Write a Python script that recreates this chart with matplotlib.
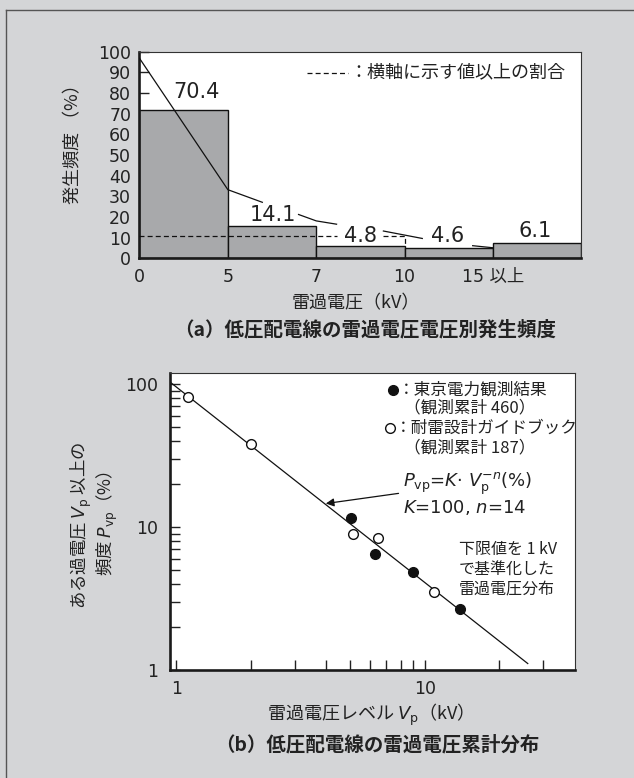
import matplotlib
matplotlib.use('Agg')
import matplotlib.pyplot as plt
import numpy as np
from matplotlib.lines import Line2D
from matplotlib.ticker import FixedLocator, NullFormatter

plt.rcParams['font.family'] = ['DejaVu Sans', 'Noto Sans CJK JP']
JP = ['Noto Sans CJK JP', 'DejaVu Sans']

BG = '#d4d5d7'
TXT = '#222222'
BAR = '#a8a9ab'

# (a) 雷過電圧の電圧別発生頻度
bin_labels = ['0', '5', '7', '10', '15 以上']
bar_heights = [72.0, 15.7, 5.9, 5.1, 7.2]
value_labels = ['70.4', '14.1', '4.8', '4.6', '6.1']
label_x = [0.64, 1.51, 2.50, 3.49, 4.48]
label_y = [80.5, 20.9, 10.9, 10.9, 13.2]
# 実線 (ラベルの所で途切れる)
curve_x = [0.0, 1.0, 1.39, np.nan, 1.80, 2.0, 2.23, np.nan, 2.76, 3.20, np.nan, 3.77, 4.0]
curve_y = [96.8, 33.2, 27.1, np.nan, 21.2, 18.1, 16.5, np.nan, 13.2, 9.6, np.nan, 6.1, 5.1]
# 破線
dash_x = [0.0, 2.23, np.nan, 2.76, 3.0, 3.0]
dash_y = [10.9, 10.9, np.nan, 10.9, 10.9, 5.9]

# (b) 累計分布
tepco_v = [5.06, 6.34, 8.95, 13.9]
tepco_p = [11.5, 6.44, 4.82, 2.66]
guide_v = [1.12, 2.0, 5.14, 6.46, 10.9]
guide_p = [81.5, 38.0, 8.93, 8.38, 3.53]
fit_v = [0.94, 26.0]
fit_p = [104.0, 1.11]

fig = plt.figure(figsize=(6.34, 7.78), dpi=100, facecolor=BG)

# 枠線 (上と左だけ見えている)
fig.add_artist(Line2D([6/634, 1], [1 - 10/778, 1 - 10/778], transform=fig.transFigure, color='#555555', lw=1.0))
fig.add_artist(Line2D([6/634, 6/634], [0, 1 - 10/778], transform=fig.transFigure, color='#555555', lw=1.0))


def style_spines(ax):
    for s in ['left', 'bottom']:
        ax.spines[s].set_linewidth(1.9)
        ax.spines[s].set_color('#1a1a1a')
    for s in ['top', 'right']:
        ax.spines[s].set_linewidth(0.8)
        ax.spines[s].set_color('#333333')


# ---- (a) ----
ax1 = fig.add_axes([0.220, 0.668, 0.697, 0.2656])
idx = np.arange(len(bar_heights))
ax1.bar(idx, bar_heights, width=1, align='edge', color=BAR, edgecolor='#111111', linewidth=1.0, zorder=2)
ax1.plot(curve_x, curve_y, color='#111111', lw=0.9, zorder=3)
ax1.plot(dash_x, dash_y, color='#111111', lw=0.9, ls=(0, (4, 2.5)), zorder=3)
for x, y, t in zip(label_x, label_y, value_labels):
    ax1.text(x, y, t, ha='center', va='center', fontsize=15, color=TXT, zorder=4)

ax1.set_xlim(0, len(bar_heights))
ax1.set_ylim(0, 100)
ax1.set_yticks(np.arange(0, 101, 10))
ax1.set_xticks(idx)
ax1.set_xticklabels(bin_labels)
ax1.tick_params(axis='y', direction='in', length=7, width=1.0, pad=6, labelsize=12.5, colors=TXT)
ax1.tick_params(axis='x', length=0, pad=7, labelsize=12.5, colors=TXT)
style_spines(ax1)

ax1.plot([0.379, 0.471], [0.898, 0.898], transform=ax1.transAxes, color='#111111', lw=0.9, ls=(0, (4, 2.5)))
ax1.text(0.476, 0.898, '：横軸に示す値以上の割合', transform=ax1.transAxes, ha='left', va='center',
         fontsize=13, color=TXT, family=JP)

fig.text(72.8/634, 1 - 140/778, '発生頻度 （%）', rotation=90, ha='center', va='center', fontsize=13, color=TXT, family=JP)
fig.text(356/634, 1 - 303/778, '雷過電圧（kV）', ha='center', va='center', fontsize=13, color=TXT, family=JP)
fig.text(365/634, 1 - 330/778, '（a）低圧配電線の雷過電圧電圧別発生頻度', ha='center', va='center', fontsize=14,
         color=TXT, family=JP, weight='bold')

# ---- (b) ----
ax2 = fig.add_axes([0.2674, 0.1388, 0.6396, 0.3814])
ax2.set_xscale('log')
ax2.set_yscale('log')
ax2.plot(fit_v, fit_p, color='#111111', lw=0.9, zorder=2)
ax2.plot(guide_v, guide_p, 'o', ms=7, mfc='white', mec='#111111', mew=1.0, zorder=3)
ax2.plot(tepco_v, tepco_p, 'o', ms=7, mfc='#111111', mec='#111111', zorder=3)
ax2.set_xlim(0.94, 40.3)
ax2.set_ylim(1, 119)
ax2.xaxis.set_major_locator(FixedLocator([1, 10]))
ax2.xaxis.set_minor_locator(FixedLocator([2, 3, 4, 5, 6, 7, 8, 9, 20, 30]))
ax2.yaxis.set_major_locator(FixedLocator([1, 10, 100]))
ax2.yaxis.set_minor_locator(FixedLocator([2, 3, 4, 5, 6, 7, 8, 9, 20, 30, 40, 50, 60, 70, 80, 90]))
ax2.xaxis.set_minor_formatter(NullFormatter())
ax2.yaxis.set_minor_formatter(NullFormatter())
ax2.set_xticklabels(['1', '10'])
ax2.set_yticklabels(['1', '10', '100'])
ax2.tick_params(which='both', direction='in', length=7, width=1.0, colors=TXT, labelsize=12.5)
ax2.tick_params(axis='y', which='both', pad=8)
ax2.tick_params(axis='x', which='both', pad=7)
style_spines(ax2)

# 凡例
ax2.plot([0.550], [0.944], 'o', ms=7, mfc='#111111', mec='#111111', transform=ax2.transAxes, clip_on=False)
ax2.plot([0.544], [0.815], 'o', ms=7, mfc='white', mec='#111111', mew=1.0, transform=ax2.transAxes, clip_on=False)
ax2.text(0.563, 0.944, '：東京電力観測結果', transform=ax2.transAxes, ha='left', va='center', fontsize=12, color=TXT, family=JP)
ax2.text(0.578, 0.882, '（観測累計 460）', transform=ax2.transAxes, ha='left', va='center', fontsize=12, color=TXT, family=JP)
ax2.text(0.557, 0.815, '：耐雷設計ガイドブック', transform=ax2.transAxes, ha='left', va='center', fontsize=12, color=TXT, family=JP)
ax2.text(0.578, 0.747, '（観測累計 187）', transform=ax2.transAxes, ha='left', va='center', fontsize=12, color=TXT, family=JP)

ax2.text(0.576, 0.628, r'$P_{\mathrm{vp}}$=$K$· $V_{\mathrm{p}}^{-n}$(%)', transform=ax2.transAxes,
         ha='left', va='center', fontsize=13, color=TXT)
ax2.text(0.576, 0.548, r'$K$=100, $n$=14', transform=ax2.transAxes, ha='left', va='center', fontsize=13, color=TXT)
ax2.annotate('', xy=(4.0, 14.6), xytext=(7.85, 17.2),
             arrowprops=dict(arrowstyle='-|>', color='#111111', lw=0.9, mutation_scale=12, shrinkA=0, shrinkB=0))

ax2.text(0.714, 0.337, '下限値を 1 kV\nで基準化した\n雷過電圧分布', transform=ax2.transAxes, ha='left', va='center',
         fontsize=11.5, color=TXT, family=JP, linespacing=1.25)

fig.text(80.9/634, 1 - 525/778, r'ある過電圧 $V_{\mathrm{p}}$ 以上の', rotation=90, ha='center', va='center',
         fontsize=12.5, color=TXT, family=JP)
fig.text(107/634, 1 - 523/778, r'頻度 $P_{\mathrm{vp}}$（%）', rotation=90, ha='center', va='center',
         fontsize=12.5, color=TXT, family=JP)
fig.text(366/634, 1 - 715/778, r'雷過電圧レベル $V_{\mathrm{p}}$（kV）', ha='center', va='center', fontsize=13, color=TXT, family=JP)
fig.text(377/634, 1 - 745/778, '（b）低圧配電線の雷過電圧累計分布', ha='center', va='center', fontsize=14,
         color=TXT, family=JP, weight='bold')

fig.savefig('out.png', dpi=100, facecolor=BG)
